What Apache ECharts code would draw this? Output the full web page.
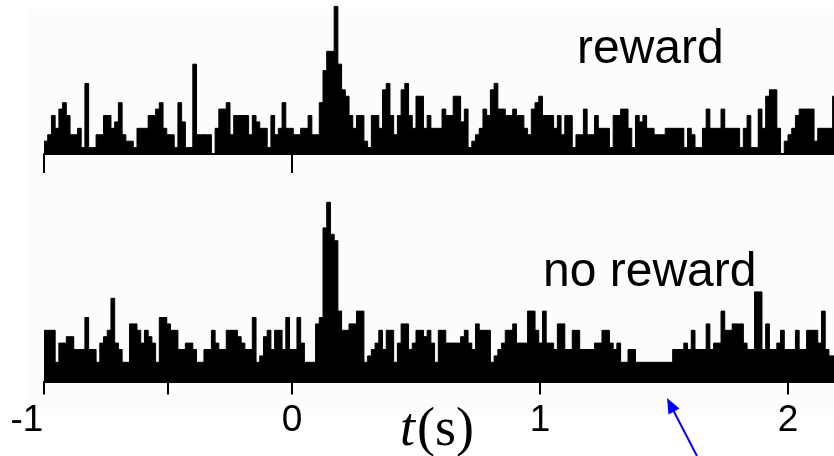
<!DOCTYPE html>
<html>
<head>
<meta charset="utf-8">
<script src="https://cdn.jsdelivr.net/npm/echarts@6/dist/echarts.min.js"></script>
<style>
html,body{margin:0;padding:0;background:#fff;}
#chart{width:834px;height:456px;}
</style>
</head>
<body>
<div id="chart"></div>
<script>
// ---- data ----
const binStart = -1;      // s, left edge of first bin
const binWidth = 0.015;   // s
const rewardCounts = [
  2,3,6,4,7,8,6,3,3,4,
  1,11,1,1,3,3,6,6,4,5,
  8,3,2,2,1,4,4,4,6,6,
  7,8,4,3,3,1,8,5,1,1,
  14,3,3,3,3,0,4,7,7,8,
  3,6,6,6,6,3,6,5,4,4,
  1,6,3,4,8,4,4,3,3,4,
  4,6,3,3,8,13,16,16,23,14,
  10,9,6,4,6,6,2,1,6,6,
  4,10,11,6,3,6,10,11,6,4,
  9,9,4,6,4,4,4,7,6,6,
  9,9,5,7,1,2,3,4,7,6,
  10,11,7,7,6,6,7,6,6,4,
  3,7,8,9,6,6,6,4,6,3,
  6,6,1,3,3,7,3,3,6,4,
  4,4,1,6,6,7,7,4,1,6,
  5,6,4,4,3,3,3,4,4,4,
  4,4,1,4,3,1,1,4,7,4,
  4,4,7,4,4,4,4,1,4,6,
  1,1,7,4,9,10,10,4,0,2,
  3,4,6,7,7,7,7,2,4,4,
  4,4,9
];
const noRewardCounts = [
  8,8,8,3,6,6,7,7,5,5,
  5,10,5,5,3,6,7,8,13,6,
  5,3,3,9,9,8,6,8,7,6,
  3,10,10,9,8,8,5,5,6,6,
  5,3,3,5,5,8,6,5,5,8,
  8,8,7,6,5,5,10,3,4,7,
  8,5,8,8,5,10,5,5,10,6,
  3,3,3,9,10,24,28,23,22,11,
  8,8,9,9,11,11,3,4,5,6,
  8,5,8,8,3,6,9,9,5,6,
  8,8,7,8,6,3,8,8,6,6,
  6,6,7,8,6,5,9,8,8,8,
  3,4,5,6,8,8,9,6,6,6,
  11,11,8,6,11,6,6,5,9,9,
  5,5,8,8,5,5,5,5,6,6,
  8,8,6,5,6,3,3,5,5,3,
  3,3,3,3,3,3,3,3,3,5,
  5,5,6,5,8,5,5,5,9,5,
  6,6,11,8,8,9,9,9,6,5,
  5,14,14,5,9,5,5,6,8,5,
  5,5,8,5,5,8,8,8,6,11,
  5,4,4
];
const tickLabels = [-1, 0, 1, 2];
const topLongTicks = [-1, 0];
const topMidTicks = [-0.5, 1];
const topShortTicks = [2];
const bottomTicks = [-1, -0.5, 0, 1, 2];
const panelNames = ['reward', 'no reward'];
const xMin = -1, xMax = 2.1855;

// ---- build ----
function toSteps(counts) {
  const pts = counts.map((c, i) => [binStart + i * binWidth, c]);
  pts.push([binStart + counts.length * binWidth, counts[counts.length - 1]]);
  return pts;
}
const chart = echarts.init(document.getElementById('chart'), null, {renderer: 'canvas'});
const sans = 'Liberation Sans, Arial, Helvetica, sans-serif';
const serif = 'Liberation Serif, Times New Roman, serif';

function tickAxis(grid, ticks, len, showLine, labels) {
  return {
    type: 'value', gridIndex: grid, min: xMin, max: xMax,
    axisLine: {show: showLine, onZero: false, lineStyle: {color: '#000', width: 2}},
    axisTick: {show: true, customValues: ticks, length: len, lineStyle: {color: '#000', width: 2}},
    axisLabel: labels ? {
      show: true, customValues: labels, margin: 21, color: '#000',
      fontFamily: sans, fontSize: 37,
      formatter: v => (v === -1 ? '{m|-1}' : '{n|' + v + '}'),
      rich: {
        m: {fontFamily: sans, fontSize: 37, color: '#000', padding: [0, 34, 0, 0]},
        n: {fontFamily: sans, fontSize: 37, color: '#000'}
      }
    } : {show: false},
    splitLine: {show: false}
  };
}

const stepSeries = (data, xi, yi) => ({
  type: 'line', step: 'end', data: data, xAxisIndex: xi, yAxisIndex: yi,
  symbol: 'none', silent: true, clip: true,
  lineStyle: {color: '#000', width: 1},
  areaStyle: {color: '#000', opacity: 1, origin: 'start'}
});

chart.setOption({
  animation: false,
  backgroundColor: '#fff',
  grid: [
    {left: 44, right: 0, top: 0, height: 154, containLabel: false, outerBoundsMode: 'none'},
    {left: 44, right: 0, top: 189.5, height: 192, containLabel: false, outerBoundsMode: 'none'}
  ],
  xAxis: [
    tickAxis(0, topLongTicks, 19, true, null),
    tickAxis(0, topMidTicks, 13, false, null),
    tickAxis(0, topShortTicks, 8, false, null),
    tickAxis(1, bottomTicks, 13, true, tickLabels)
  ],
  yAxis: [
    {type: 'value', gridIndex: 0, min: 0, max: 24, show: false},
    {type: 'value', gridIndex: 1, min: 0, max: 30, show: false}
  ],
  series: [
    stepSeries(toSteps(rewardCounts), 0, 0),
    stepSeries(toSteps(noRewardCounts), 3, 1)
  ],
  graphic: [
    {type: 'rect', z: -10, silent: true, shape: {x: 28, y: 9, width: 806, height: 406}, style: {fill: '#fcfcfc'}},
    {type: 'text', silent: true, style: {x: 577, y: 50, text: panelNames[0], fill: '#000', font: '48px ' + sans, verticalAlign: 'middle', align: 'left'}},
    {type: 'text', silent: true, style: {x: 543, y: 273, text: panelNames[1], fill: '#000', font: '48px ' + sans, verticalAlign: 'middle', align: 'left'}},
    {type: 'text', silent: true, style: {
      x: 437, y: 431, align: 'center', verticalAlign: 'middle',
      text: '{i|t}{n|(s)}',
      rich: {
        i: {fontFamily: serif, fontStyle: 'italic', fontSize: 54, fill: '#000'},
        n: {fontFamily: serif, fontSize: 54, fill: '#000', padding: [0, 0, 0, 2]}
      }
    }},
    {type: 'line', silent: true, shape: {x1: 697, y1: 456, x2: 671, y2: 406}, style: {stroke: '#0000ff', lineWidth: 2}},
    {type: 'polygon', silent: true, shape: {points: [[667, 398], [679.5, 408.5], [668.5, 414.5]]}, style: {fill: '#0000ff'}}
  ]
});
</script>
</body>
</html>
